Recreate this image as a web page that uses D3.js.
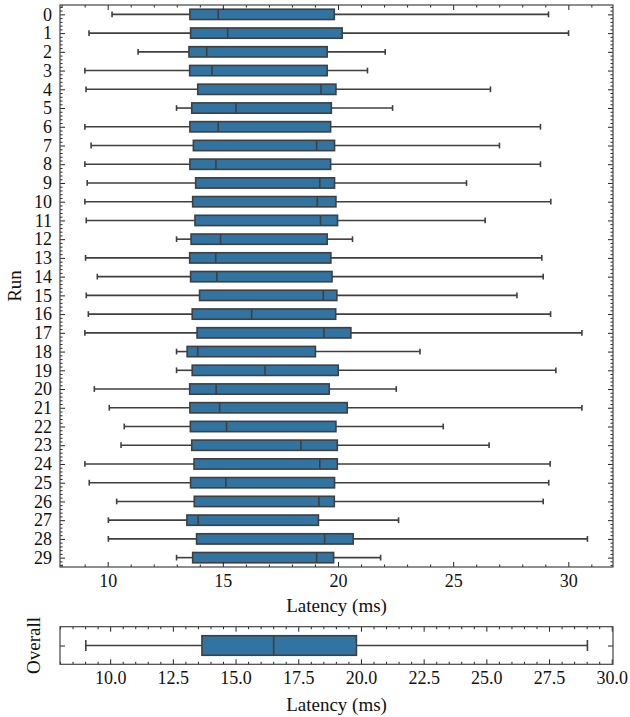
<!DOCTYPE html>
<html>
<head>
<meta charset="utf-8">
<script src="https://cdn.jsdelivr.net/npm/d3@7"></script>
<style>
  body { margin: 0; background: #fff; }
  svg { display: block; }
</style>
</head>
<body>
<div id="chart"></div>
<script>
// Per-run latency stats (ms)
var runs = d3.range(30).map(String)
var whiskerLow  = [10.19, 9.19, 11.32, 9.01, 9.06, 12.99, 9.01, 9.28, 9.01, 9.11,
                   9.01, 9.07, 12.99, 9.04, 9.55, 9.07, 9.16, 9.01, 12.99, 12.99,
                   9.42, 10.07, 10.72, 10.58, 9.01, 9.20, 10.39, 10.03, 10.03, 12.99]
var q1          = [13.57, 13.60, 13.53, 13.56, 13.91, 13.65, 13.57, 13.72, 13.57, 13.82,
                   13.69, 13.79, 13.62, 13.56, 13.60, 13.99, 13.67, 13.88, 13.45, 13.67,
                   13.56, 13.57, 13.59, 13.65, 13.75, 13.60, 13.76, 13.44, 13.86, 13.69]
var median      = [14.80, 15.21, 14.30, 14.53, 19.26, 15.57, 14.80, 19.07, 14.70, 19.21,
                   19.10, 19.24, 14.90, 14.69, 14.74, 19.36, 16.25, 19.39, 13.91, 16.83,
                   14.71, 14.86, 15.16, 18.39, 19.21, 15.13, 19.17, 13.93, 19.42, 19.07]
var q3          = [19.84, 20.18, 19.53, 19.53, 19.91, 19.71, 19.68, 19.85, 19.68, 19.85,
                   19.91, 19.98, 19.53, 19.69, 19.74, 19.95, 19.90, 20.56, 19.02, 20.01,
                   19.62, 20.40, 19.91, 19.97, 19.97, 19.85, 19.84, 19.15, 20.66, 19.81]
var whiskerHigh = [29.14, 30.01, 22.05, 21.28, 26.62, 22.37, 28.79, 27.01, 28.79, 25.58,
                   29.24, 26.39, 20.63, 28.85, 28.91, 27.77, 29.23, 30.59, 23.56, 29.46,
                   22.53, 30.59, 24.57, 26.56, 29.21, 29.15, 28.91, 22.63, 30.83, 21.85]

// Overall stats
var overallLabel = ["Overall"]
var overallStats = [9.03, 13.66, 16.52, 19.82, 29.03] // low whisker, q1, median, q3, high whisker

var topTicks = [10, 15, 20, 25, 30]
var bottomTicks = [10, 12.5, 15, 17.5, 20, 22.5, 25, 27.5, 30]

var W = 630, H = 717
var boxFill = "#3274a1", lineCol = "#3f3f3f"
var serif = "Liberation Serif"
var left = 60, right = 613

var svg = d3.select("#chart").append("svg")
  .attr("width", W)
  .attr("height", H)
  .attr("font-family", serif)

// ---------- shared helpers ----------
function drawBox(g, y, h, s, x) {
  var cap = h * 0.56
  g.append("line")
    .attr("x1", x(s[0])).attr("x2", x(s[1]))
    .attr("y1", y).attr("y2", y)
    .attr("stroke", lineCol).attr("stroke-width", 1.6)
  g.append("line")
    .attr("x1", x(s[3])).attr("x2", x(s[4]))
    .attr("y1", y).attr("y2", y)
    .attr("stroke", lineCol).attr("stroke-width", 1.6)
  ;[s[0], s[4]].forEach(function(v) {
    g.append("line")
      .attr("x1", x(v)).attr("x2", x(v))
      .attr("y1", y - cap / 2).attr("y2", y + cap / 2)
      .attr("stroke", lineCol).attr("stroke-width", 1.6)
  })
  g.append("rect")
    .attr("x", x(s[1])).attr("width", x(s[3]) - x(s[1]))
    .attr("y", y - h / 2).attr("height", h)
    .attr("fill", boxFill)
    .attr("stroke", lineCol).attr("stroke-width", 1.6)
  g.append("line")
    .attr("x1", x(s[2])).attr("x2", x(s[2]))
    .attr("y1", y - h / 2).attr("y2", y + h / 2)
    .attr("stroke", lineCol).attr("stroke-width", 1.6)
}

function styleAxis(sel) {
  sel.attr("font-family", serif).attr("font-size", 18)
  sel.select(".domain").remove()
  sel.selectAll(".tick line").attr("stroke", "#222").attr("stroke-width", 1)
  sel.selectAll(".tick text").attr("fill", "#111").attr("font-family", serif)
}

function label(x, y, rot, txt) {
  svg.append("text")
    .attr("transform", "translate(" + x + "," + y + ")" + (rot ? " rotate(-90)" : ""))
    .attr("text-anchor", "middle")
    .attr("font-family", serif).attr("font-size", 19).attr("fill", "#111")
    .text(txt)
}

// ---------- top panel ----------
var t = { top: 5, bottom: 567 }
var x1 = d3.scaleLinear().domain([7.93, 31.94]).range([left, right])
var y1 = d3.scalePoint().domain(runs).range([t.top, t.bottom]).padding(0.5)
var y1Lin = d3.scaleLinear().domain([-0.5, 29.5]).range([t.top, t.bottom])
var step1 = y1.step()

var gTop = svg.append("g")

runs.forEach(function(r, i) {
  drawBox(gTop, y1(r), step1 * 0.55, [whiskerLow[i], q1[i], median[i], q3[i], whiskerHigh[i]], x1)
})

var minorX1 = d3.range(8, 32, 1).filter(function(v) { return v % 5 !== 0 })
var minorY1 = d3.range(-0.4, 29.5, 0.2).filter(function(v) { return Math.abs(v - Math.round(v)) > 0.05 })

// x axes (bottom + top, ticks inward)
gTop.append("g").attr("transform", "translate(0," + t.bottom + ")")
  .call(d3.axisBottom(x1).tickValues(topTicks).tickSize(-5).tickPadding(7).tickFormat(d3.format("d")))
  .call(styleAxis)
gTop.append("g").attr("transform", "translate(0," + t.bottom + ")")
  .call(d3.axisBottom(x1).tickValues(minorX1).tickSize(-2.5).tickFormat(""))
  .call(styleAxis)
gTop.append("g").attr("transform", "translate(0," + t.top + ")")
  .call(d3.axisTop(x1).tickValues(topTicks).tickSize(-5).tickFormat(""))
  .call(styleAxis)
gTop.append("g").attr("transform", "translate(0," + t.top + ")")
  .call(d3.axisTop(x1).tickValues(minorX1).tickSize(-2.5).tickFormat(""))
  .call(styleAxis)

// y axes (left + right)
gTop.append("g").attr("transform", "translate(" + left + ",0)")
  .call(d3.axisLeft(y1).tickSize(-5).tickPadding(8))
  .call(styleAxis)
gTop.append("g").attr("transform", "translate(" + left + ",0)")
  .call(d3.axisLeft(y1Lin).tickValues(minorY1).tickSize(-2.5).tickFormat(""))
  .call(styleAxis)
gTop.append("g").attr("transform", "translate(" + right + ",0)")
  .call(d3.axisRight(y1).tickSize(-5).tickFormat(""))
  .call(styleAxis)
gTop.append("g").attr("transform", "translate(" + right + ",0)")
  .call(d3.axisRight(y1Lin).tickValues(minorY1).tickSize(-2.5).tickFormat(""))
  .call(styleAxis)

gTop.append("rect")
  .attr("x", left).attr("y", t.top)
  .attr("width", right - left).attr("height", t.bottom - t.top)
  .attr("fill", "none").attr("stroke", "#444").attr("stroke-width", 1.2)

label((left + right) / 2, 612, false, "Latency (ms)")
label(21, (t.top + t.bottom) / 2, true, "Run")

// ---------- bottom panel ----------
var b = { top: 626.7, bottom: 664.3 }
var x2 = d3.scaleLinear().domain([8.0, 30.05]).range([left, right])
var y2 = d3.scalePoint().domain(overallLabel).range([b.top, b.bottom]).padding(0.5)

var gBot = svg.append("g")
drawBox(gBot, y2("Overall"), (b.bottom - b.top) * 0.52, overallStats, x2)

var minorX2 = d3.range(8, 30.01, 0.5).filter(function(v) { return v % 2.5 !== 0 })

gBot.append("g").attr("transform", "translate(0," + b.bottom + ")")
  .call(d3.axisBottom(x2).tickValues(bottomTicks).tickSize(-5).tickPadding(7).tickFormat(d3.format(".1f")))
  .call(styleAxis)
gBot.append("g").attr("transform", "translate(0," + b.bottom + ")")
  .call(d3.axisBottom(x2).tickValues(minorX2).tickSize(-2.5).tickFormat(""))
  .call(styleAxis)
gBot.append("g").attr("transform", "translate(0," + b.top + ")")
  .call(d3.axisTop(x2).tickValues(bottomTicks).tickSize(-5).tickFormat(""))
  .call(styleAxis)
gBot.append("g").attr("transform", "translate(0," + b.top + ")")
  .call(d3.axisTop(x2).tickValues(minorX2).tickSize(-2.5).tickFormat(""))
  .call(styleAxis)
gBot.append("g").attr("transform", "translate(" + left + ",0)")
  .call(d3.axisLeft(y2).tickSize(-5).tickFormat(""))
  .call(styleAxis)
gBot.append("g").attr("transform", "translate(" + right + ",0)")
  .call(d3.axisRight(y2).tickSize(-5).tickFormat(""))
  .call(styleAxis)

gBot.append("rect")
  .attr("x", left).attr("y", b.top)
  .attr("width", right - left).attr("height", b.bottom - b.top)
  .attr("fill", "none").attr("stroke", "#444").attr("stroke-width", 1.2)

label((left + right) / 2, 711, false, "Latency (ms)")
label(40, (b.top + b.bottom) / 2, true, "Overall")
</script>
</body>
</html>
